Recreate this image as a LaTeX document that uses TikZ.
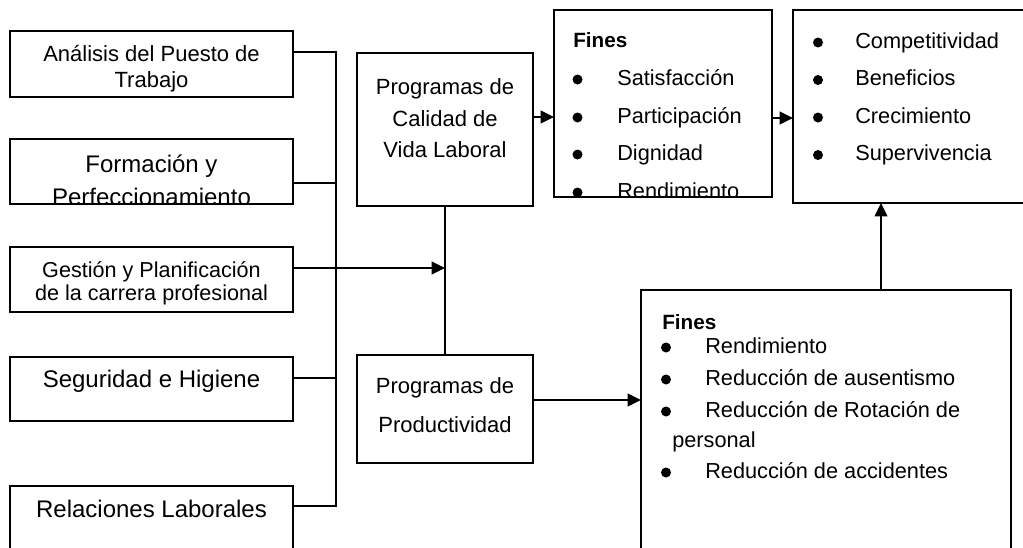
\documentclass[tikz,border=0pt]{standalone}
\usepackage{fontspec}
\setmainfont{Liberation Sans}
\usetikzlibrary{arrows.meta,calc}
\begin{document}
\begin{tikzpicture}[x=0.75pt,y=-0.75pt,
 box/.style={draw,line width=1.2pt,rectangle,inner sep=0pt,outer sep=0pt,anchor=north west},
 conn/.style={line width=1.2pt},
 arr/.style={line width=1.2pt,-{Triangle[length=10pt,width=9.5pt]}},
 txt/.style={anchor=base,inner sep=0pt,font=\fontsize{16.5}{18}\selectfont},
 sml/.style={anchor=base,inner sep=0pt,font=\fontsize{16.2}{18}\selectfont},
 big/.style={anchor=base,inner sep=0pt,font=\fontsize{18}{20}\selectfont},
 lt/.style={anchor=base west,inner sep=0pt,font=\fontsize{16.3}{18}\selectfont},
 hd/.style={anchor=base west,inner sep=0pt,font=\bfseries\fontsize{15.5}{17}\selectfont},
 bul/.style={circle,fill=black,inner sep=0pt,minimum size=7.5pt}]
\useasboundingbox (0,0) rectangle (1023,547);
\clip (0,0) rectangle (1023,547);

% left boxes
\node[box,minimum width=283*0.75pt,minimum height=66*0.75pt] (b1) at (10,31) {};
\node[box,minimum width=283*0.75pt,minimum height=65*0.75pt] (b2) at (10,139) {};
\node[box,minimum width=283*0.75pt,minimum height=65*0.75pt] (b3) at (10,247) {};
\node[box,minimum width=283*0.75pt,minimum height=64*0.75pt] (b4) at (10,357) {};
\node[box,minimum width=283*0.75pt,minimum height=80*0.75pt] (b5) at (10,486) {};

\node[txt] (t1a) at (151.5,61) {Análisis del Puesto de};
\node[txt] (t1b) at (151.5,87) {Trabajo};
\node[big] (t2a) at (151.5,172) {Formación y};
\begin{scope}
\clip (b2.north west) rectangle (b2.south east);
\node[big] (t2b) at (151.5,205) {Perfeccionamiento};
\end{scope}
\node[sml] (t3a) at (151.5,277) {Gestión y Planificación};
\node[sml] (t3b) at (151.5,300) {de la carrera profesional};
\node[big] (t4) at (151.5,387) {Seguridad e Higiene};
\node[big] (t5) at (151.5,517) {Relaciones Laborales};

% programs
\node[box,minimum width=176*0.75pt,minimum height=153*0.75pt] (cal) at (357,53) {};
\node[box,minimum width=176*0.75pt,minimum height=108*0.75pt] (prod) at (357,355) {};
\node[txt] (c1) at (445,94) {Programas de};
\node[txt] (c2) at (445,126) {Calidad de};
\node[txt] (c3) at (445,157) {Vida Laboral};
\node[txt] (p1) at (445,393) {Programas de};
\node[txt] (p2) at (445,432) {Productividad};

% fines 1
\node[box,minimum width=218*0.75pt,minimum height=187*0.75pt] (f1) at (554,10) {};
\node[hd] (f1h) at (573,47) {Fines};
\begin{scope}
\clip (f1.north west) rectangle (f1.south east);
\foreach \b/\t [count=\i] in {85/Satisfacción,123/Participación,160/Dignidad,198/Rendimiento}{
  \node[bul] (f1b\i) at (577.5,\b-5.5) {};
  \node[lt] (f1t\i) at (617,\b) {\t};
}
\end{scope}

% fines 2
\node[box,minimum width=260*0.75pt,minimum height=193*0.75pt] (f2) at (793,10) {};
\foreach \b/\t [count=\i] in {48/Competitividad,85.5/Beneficios,123/Crecimiento,160.5/Supervivencia}{
  \node[bul] (f2b\i) at (818,\b-5.5) {};
  \node[lt] (f2t\i) at (855,\b) {\t};
}

% fines 3
\node[box,minimum width=370*0.75pt,minimum height=280*0.75pt] (f3) at (641,290) {};
\node[hd] (f3h) at (662,329) {Fines};
\foreach \b/\t [count=\i] in {353/Rendimiento,385/Reducción de ausentismo,417/Reducción de Rotación de,478/Reducción de accidentes}{
  \node[bul] (f3b\i) at (666,\b-5.5) {};
  \node[lt] (f3t\i) at (705,\b) {\t};
}
\node[lt] (f3p) at (672,447) {personal};

% connectors
\coordinate (busx) at (336,0);
\coordinate (y1) at (0,52);
\coordinate (y2) at (0,183);
\coordinate (y3) at (0,268);
\coordinate (y4) at (0,378);
\coordinate (y5) at (0,506);
\draw[conn] (b1.east |- y1) -- (busx |- y1) -- (busx |- y5) -- (b5.east |- y5);
\draw[conn] (b2.east |- y2) -- (busx |- y2);
\draw[conn] (b4.east |- y4) -- (busx |- y4);
\draw[arr] (b3.east |- y3) -- (cal.south |- y3);
\draw[conn] (cal.south) -- (prod.north);

\coordinate (h1) at (0,117);
\coordinate (h2) at (0,118);
\coordinate (h3) at (0,400);
\coordinate (v1) at (881,0);
\draw[arr] (cal.east |- h1) -- (f1.west |- h1);
\draw[arr] (f1.east |- h2) -- (f2.west |- h2);
\draw[arr] (prod.east |- h3) -- (f3.west |- h3);
\draw[arr] (f3.north -| v1) -- (f2.south -| v1);
\end{tikzpicture}
\end{document}
